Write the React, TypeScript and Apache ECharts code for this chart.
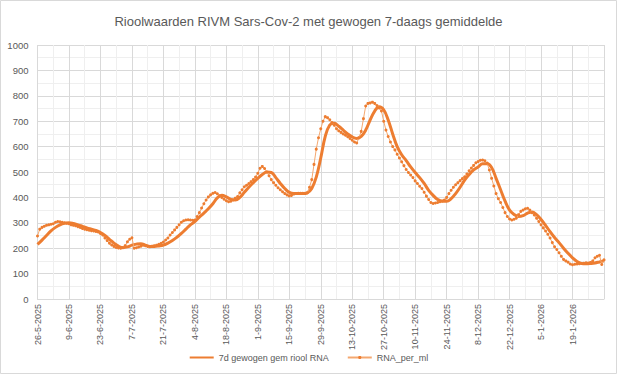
import React, { useEffect, useRef } from "react";
import * as echarts from "echarts";

const chartTitle = "Rioolwaarden RIVM Sars-Cov-2 met gewogen 7-daags gemiddelde";
const seriesNames = ["7d gewogen gem riool RNA", "RNA_per_ml"];

// x tick labels every 14 days starting 26-5-2025 (day 0)
const dateLabels = [
  "26-5-2025", "9-6-2025", "23-6-2025", "7-7-2025", "21-7-2025", "4-8-2025",
  "18-8-2025", "1-9-2025", "15-9-2025", "29-9-2025", "13-10-2025", "27-10-2025",
  "10-11-2025", "24-11-2025", "8-12-2025", "22-12-2025", "5-1-2026", "19-1-2026",
];
const dayStep = 14;
const lastDay = 252;

// RNA_per_ml, daily values from day 0 (26-5-2025)
const rnaPerMl = [
  248, 275, 282, 286, 290, 292, 294, 296, 302, 305,
  304, 302, 300, 298, 296, 292, 290, 288, 285, 282,
  278, 275, 273, 271, 269, 268, 266, 264, 258, 252,
  240, 230, 220, 213, 207, 203, 201, 200, 203, 210,
  225, 235, 241, 200, 202, 205, 208, 212, 210, 207,
  206, 208, 210, 212, 215, 219, 224, 232, 240, 252,
  262, 272, 282, 292, 302, 308, 311, 312, 311, 310,
  311, 325, 340, 358, 375, 390, 402, 410, 416, 419,
  414, 406, 400, 393, 387, 383, 385, 390, 397, 403,
  418, 430, 442, 448, 455, 462, 470, 480, 495, 515,
  522, 514, 500, 485, 470, 458, 448, 438, 430, 422,
  415, 410, 406, 408, 413, 415, 416, 416, 416, 416,
  418, 440, 470, 530, 590, 635, 670, 700, 718, 714,
  706, 695, 684, 670, 662, 656, 650, 645, 639, 632,
  625, 618, 614, 635, 660, 710, 760, 770, 772, 775,
  770, 762, 752, 740, 700, 665, 640, 618, 600, 587,
  570, 555, 540, 525, 510, 498, 488, 478, 465, 455,
  444, 435, 420, 405, 392, 380, 376, 378, 380, 383,
  386, 390, 400, 415, 428, 440, 450, 458, 466, 474,
  481, 492, 505, 516, 526, 536, 541, 546, 547, 544,
  535, 508, 475, 445, 415, 395, 380, 360, 340, 325,
  315, 311, 314, 318, 332, 345, 350, 355, 357, 350,
  340, 331, 318, 305, 292, 280, 268, 255, 240, 222,
  206, 195, 182, 168, 156, 150, 145, 138, 135, 137,
  138, 139, 140, 141, 143, 142, 144, 150, 162, 168,
  172, 136, 154,
];

// weighted 7-day average, every 2 days from day 0
const weighted7d = [
  215, 232, 250, 268, 282, 292, 298, 300, 297, 292,
  286, 280, 275, 270, 262, 250, 235, 220, 208, 202,
  205, 212, 216, 218, 212, 207, 207, 209, 212, 220,
  230, 243, 258, 275, 292, 305, 322, 338, 355, 375,
  398, 408, 402, 392, 390, 400, 420, 440, 458, 475,
  490, 500, 498, 478, 455, 435, 420, 415, 415, 415,
  418, 435, 480, 555, 640, 685, 692, 680, 665, 650,
  638, 632, 640, 665, 705, 740, 757, 745, 705, 650,
  600, 568, 545, 520, 498, 478, 455, 428, 408, 392,
  385, 385, 395, 415, 440, 468, 490, 508, 520, 532,
  532, 518, 475, 430, 385, 350, 333, 325, 328, 338,
  343, 332, 313, 290, 265, 242, 222, 200, 180, 162,
  148, 140, 139, 140, 142, 146, 150,
];
const weightedStep = 2;

export default function App() {
  const ref = useRef<HTMLDivElement>(null);
  useEffect(() => {
    if (!ref.current) return;
    const chart = echarts.init(ref.current, undefined, { renderer: "svg" });
    const txt = "#595959";
    const font = "Liberation Sans";
    chart.setOption({
      animation: false,
      backgroundColor: "#ffffff",
      textStyle: { fontFamily: font },
      title: {
        text: chartTitle,
        left: "center",
        top: 10,
        textStyle: { fontSize: 13, fontWeight: "normal", color: txt, fontFamily: font },
      },
      graphic: [
        {
          type: "rect",
          shape: { x: 0.5, y: 0.5, width: 616, height: 373 },
          style: { fill: "none", stroke: "#d9d9d9", lineWidth: 1 },
          silent: true,
        },
      ],
      legend: {
        top: 348,
        left: "center",
        itemWidth: 24,
        itemHeight: 4,
        itemGap: 18,
        textStyle: { fontSize: 9, color: txt, fontFamily: font },
        data: [
          { name: seriesNames[0], itemStyle: { opacity: 0 } },
          { name: seriesNames[1] },
        ],
      },
      grid: {
        left: 37.5,
        right: 13,
        top: 45,
        bottom: 75,
        containLabel: false,
        outerBoundsMode: "none",
      },
      xAxis: {
        type: "value",
        min: 0,
        max: lastDay,
        interval: dayStep,
        axisLine: { show: true, lineStyle: { color: "#d9d9d9" } },
        axisTick: { show: false },
        minorTick: { show: false, splitNumber: 2 },
        axisLabel: {
          rotate: 90,
          fontSize: 9,
          color: txt,
          margin: 5,
          formatter: (v: number) => dateLabels[Math.round(v / dayStep)] ?? "",
        },
        splitLine: { show: true, lineStyle: { color: "#d9d9d9", width: 1 } },
        minorSplitLine: { show: true, lineStyle: { color: "#efefef", width: 1 } },
      },
      yAxis: {
        type: "value",
        min: 0,
        max: 1000,
        interval: 100,
        axisLine: { show: false },
        axisTick: { show: false },
        minorTick: { show: false, splitNumber: 2 },
        axisLabel: { fontSize: 9.5, color: txt, margin: 9, formatter: (v: number) => String(v) },
        splitLine: { show: true, lineStyle: { color: "#d9d9d9", width: 1 } },
        minorSplitLine: { show: true, lineStyle: { color: "#efefef", width: 1 } },
      },
      series: [
        {
          name: seriesNames[0],
          type: "line",
          data: weighted7d.map((v, i) => [i * weightedStep, v]),
          symbol: "none",
          smooth: 0.4,
          lineStyle: { color: "#ED7D31", width: 3 },
          itemStyle: { color: "#ED7D31" },
          z: 2,
        },
        {
          name: seriesNames[1],
          type: "line",
          data: rnaPerMl.map((v, i) => [i, v]),
          symbol: "circle",
          symbolSize: 3,
          showSymbol: true,
          lineStyle: { color: "#F4A870", width: 1 },
          itemStyle: { color: "#ED7D31" },
          z: 3,
        },
      ],
    });
    return () => chart.dispose();
  }, []);
  return (
    <div
      ref={ref}
      style={{ position: "absolute", left: 0, top: 0, width: 617, height: 374 }}
    />
  );
}
